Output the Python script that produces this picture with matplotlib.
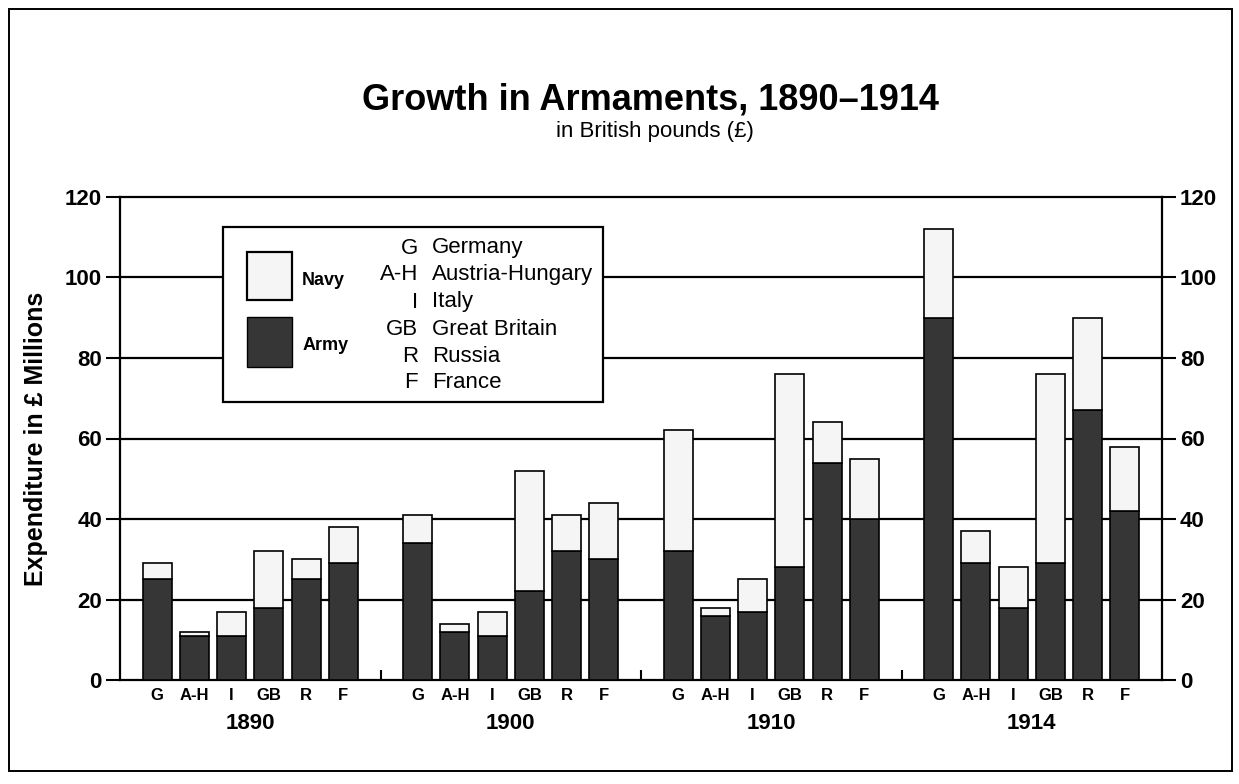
import matplotlib.pyplot as plt
from matplotlib.patches import Rectangle

# data (British pounds, millions)
years = ["1890", "1900", "1910", "1914"]
countries = ["G", "A-H", "I", "GB", "R", "F"]
country_names = ["Germany", "Austria-Hungary", "Italy", "Great Britain", "Russia", "France"]
army = [
    [25, 11, 11, 18, 25, 29],
    [34, 12, 11, 22, 32, 30],
    [32, 16, 17, 28, 54, 40],
    [90, 29, 18, 29, 67, 42],
]
navy = [
    [4, 1, 6, 14, 5, 9],
    [7, 2, 6, 30, 9, 14],
    [30, 2, 8, 48, 10, 15],
    [22, 8, 10, 47, 23, 16],
]
y_ticks = [0, 20, 40, 60, 80, 100, 120]

ARMY_COLOR = "#363636"
NAVY_COLOR = "#f5f5f5"
FONT = "Liberation Sans"
W, H = 1239, 784


def fx(px):
    return px / W


def fy(py):
    return 1 - py / H


def box(x0, y0, x1, y1, **kw):
    # rectangle given in pixel coords measured from the top left
    return Rectangle((fx(x0), fy(y1)), fx(x1) - fx(x0), fy(y0) - fy(y1), **kw)


def main():
    plt.rcParams["font.family"] = [FONT, "DejaVu Sans"]
    fig = plt.figure(figsize=(W / 100, H / 100), dpi=100, facecolor="white")

    # outer frame
    fig.add_artist(box(9, 9, 1232, 771, transform=fig.transFigure, fill=False,
                       edgecolor="black", lw=1.4))

    fig.text(fx(651), fy(100), "Growth in Armaments, 1890\u20131914", ha="center", va="center",
             fontsize=26, fontweight="bold")
    fig.text(fx(655), fy(131), "in British pounds (\u00a3)", ha="center", va="center", fontsize=16)

    ax = fig.add_axes([fx(120), fy(680), fx(1162) - fx(120), fy(197) - fy(680)])
    group_size = len(countries) + 1
    xs, labels = [], []
    for g, year in enumerate(years):
        pos = [g * group_size + j for j in range(len(countries))]
        ax.bar(pos, army[g], width=0.78, color=ARMY_COLOR, edgecolor="black", lw=1.2, zorder=3)
        ax.bar(pos, navy[g], bottom=army[g], width=0.78, color=NAVY_COLOR, edgecolor="black",
               lw=1.2, zorder=3)
        xs += pos
        labels += countries
        ax.annotate(year, xy=(g * group_size + 2.5, 0), xycoords=("data", "axes fraction"),
                    xytext=(0, -31), textcoords="offset points", ha="center", va="center",
                    fontsize=16, fontweight="bold")
        if g < len(years) - 1:
            ax.vlines(g * group_size + len(countries), 0, 2.5, color="black", lw=1.5, zorder=2)

    for v in y_ticks[1:]:
        ax.axhline(v, color="black", lw=1.6, zorder=1, clip_on=False)

    ax.set_xlim(-1, len(years) * group_size - 1)
    ax.set_ylim(0, 120)
    ax.set_xticks(xs)
    ax.set_xticklabels(labels, fontsize=12, fontweight="bold")
    ax.tick_params(axis="x", length=0, pad=6)
    ax.set_yticks(y_ticks)
    ax.set_yticklabels([str(v) for v in y_ticks], fontweight="bold")
    ax.tick_params(axis="y", which="both", length=10, width=1.5, labelsize=16, pad=3,
                   right=True, labelright=True)
    ax.spines["top"].set_visible(False)
    for s in ["left", "right", "bottom"]:
        ax.spines[s].set_linewidth(1.6)
    ax.set_ylabel("Expenditure in \u00a3 Millions", fontsize=18, fontweight="bold")
    ax.yaxis.set_label_coords(-0.069, 0.5)

    # legend box
    fig.add_artist(box(223, 227, 603, 402, transform=fig.transFigure, facecolor="white",
                       edgecolor="black", lw=1.6, zorder=5))
    fig.add_artist(box(247, 252, 292, 300, transform=fig.transFigure, facecolor=NAVY_COLOR,
                       edgecolor="black", lw=1.6, zorder=6))
    fig.add_artist(box(247, 317, 292, 367, transform=fig.transFigure, facecolor=ARMY_COLOR,
                       edgecolor="black", lw=1.0, zorder=6))
    fig.text(fx(302), fy(280), "Navy", ha="left", va="center", fontsize=13, fontweight="bold", zorder=7)
    fig.text(fx(303), fy(345), "Army", ha="left", va="center", fontsize=13, fontweight="bold", zorder=7)
    for i, (abbr, name) in enumerate(zip(countries, country_names)):
        y = 248 + i * 27
        fig.text(fx(418), fy(y), abbr, ha="right", va="center", fontsize=16, zorder=7)
        fig.text(fx(432), fy(y), name, ha="left", va="center", fontsize=16, zorder=7)

    fig.savefig("out.png", dpi=100, facecolor="white")


if __name__ == "__main__":
    main()
